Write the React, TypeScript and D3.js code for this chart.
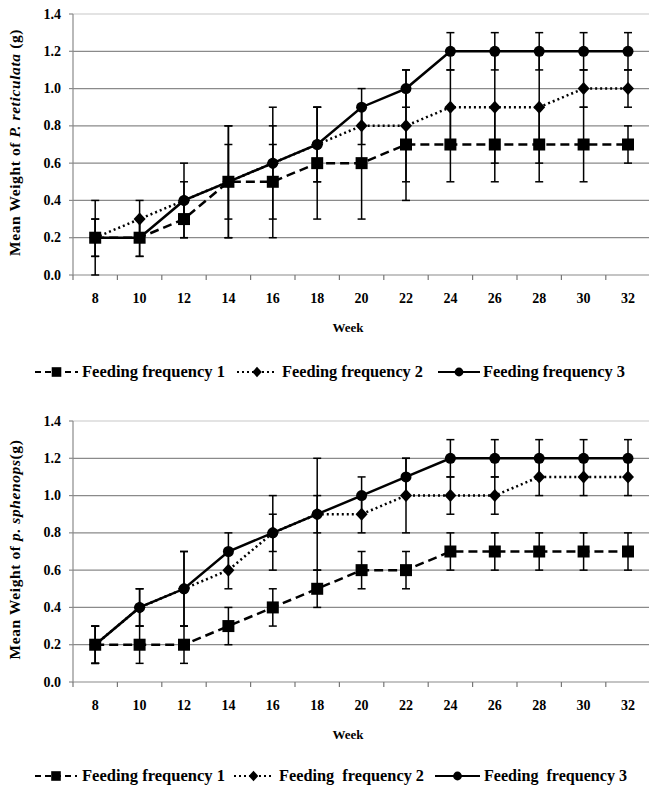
import React from "react";
import * as d3 from "d3";

const weeks = [8, 10, 12, 14, 16, 18, 20, 22, 24, 26, 28, 30, 32];
const yTicks = [0, 0.2, 0.4, 0.6, 0.8, 1.0, 1.2, 1.4];
const seriesNames = ["Feeding frequency 1", "Feeding frequency 2", "Feeding frequency 3"];
const seriesNamesBottom = ["Feeding frequency 1", "Feeding  frequency 2", "Feeding  frequency 3"];

// Top chart: P. reticulata
const retFF1 = [0.2, 0.2, 0.3, 0.5, 0.5, 0.6, 0.6, 0.7, 0.7, 0.7, 0.7, 0.7, 0.7];
const retFF2 = [0.2, 0.3, 0.4, 0.5, 0.6, 0.7, 0.8, 0.8, 0.9, 0.9, 0.9, 1.0, 1.0];
const retFF3 = [0.2, 0.2, 0.4, 0.5, 0.6, 0.7, 0.9, 1.0, 1.2, 1.2, 1.2, 1.2, 1.2];
const retErr1 = [0.2, 0.1, 0.1, 0.3, 0.3, 0.3, 0.3, 0.3, 0.2, 0.2, 0.2, 0.2, 0.1];
const retErr2 = [0.1, 0.1, 0.1, 0.2, 0.1, 0.2, 0.1, 0.3, 0.2, 0.3, 0.3, 0.1, 0.1];
const retErr3 = [0.1, 0.1, 0.2, 0.3, 0.3, 0.2, 0.1, 0.1, 0.1, 0.1, 0.1, 0.1, 0.1];

// Bottom chart: P. sphenops
const sphFF1 = [0.2, 0.2, 0.2, 0.3, 0.4, 0.5, 0.6, 0.6, 0.7, 0.7, 0.7, 0.7, 0.7];
const sphFF2 = [0.2, 0.4, 0.5, 0.6, 0.8, 0.9, 0.9, 1.0, 1.0, 1.0, 1.1, 1.1, 1.1];
const sphFF3 = [0.2, 0.4, 0.5, 0.7, 0.8, 0.9, 1.0, 1.1, 1.2, 1.2, 1.2, 1.2, 1.2];
const sphErr1 = [0.1, 0.1, 0.1, 0.1, 0.1, 0.1, 0.1, 0.1, 0.1, 0.1, 0.1, 0.1, 0.1];
const sphErr2 = [0.1, 0.1, 0.2, 0.1, 0.1, 0.1, 0.1, 0.2, 0.1, 0.1, 0.1, 0.1, 0.1];
const sphErr3 = [0.1, 0.1, 0.2, 0.1, 0.2, 0.3, 0.1, 0.1, 0.1, 0.1, 0.1, 0.1, 0.1];

const FONT = "Liberation Serif";
const dashes = ["9,5", "2,3", null];
const legendDashes = ["6,4", "2,3", null];

function Marker({ kind, x, y, s = 1 }: { kind: number; x: number; y: number; s?: number }) {
  if (kind === 0) return <rect x={x - 6 * s} y={y - 6 * s} width={12 * s} height={12 * s} fill="#000" />;
  if (kind === 1)
    return (
      <path
        d={`M${x},${y - 6.5 * s}L${x + 6 * s},${y}L${x},${y + 6.5 * s}L${x - 6 * s},${y}Z`}
        fill="#000"
      />
    );
  return <circle cx={x} cy={y} r={5.5 * s} fill="#000" />;
}

function T(props: any) {
  const { style, ...rest } = props;
  return <text {...rest} style={{ fontFamily: FONT, fontWeight: "bold", ...(style || {}) }} />;
}

function Chart({
  top,
  series,
  errs,
  species,
  suffix,
  names,
  legendItems,
  legendOffset,
}: {
  top: number;
  series: number[][];
  errs: number[][];
  species: string;
  suffix: string;
  names: string[];
  legendItems: { x0: number; x1: number; tx: number; w: number }[];
  legendOffset: number;
}) {
  const left = 73;
  const plotTop = top;
  const plotBottom = top + 261;
  const x = d3.scaleBand<number>().domain(weeks).range([left, left + 13 * 44.4]).padding(0);
  const y = d3.scaleLinear().domain([0, 1.4]).range([plotBottom, plotTop]);
  const cx = (w: number) => (x(w) as number) + x.bandwidth() / 2;
  const line = d3
    .line<number>()
    .x((_, i) => cx(weeks[i]))
    .y((v) => y(v));
  const boundaries = d3.range(14).map((i) => left + i * x.bandwidth());
  const legendY = plotBottom + legendOffset;
  return (
    <g>
      {yTicks.map((t) => (
        <g key={t}>
          <line
            x1={left}
            x2={649}
            y1={y(t)}
            y2={y(t)}
            stroke={t === 1.4 ? "#c8c8c8" : "#8a8a8a"}
            strokeWidth={1.2}
          />
          <line x1={left - 4} x2={left} y1={y(t)} y2={y(t)} stroke="#8a8a8a" strokeWidth={1.2} />
          <T x={61} y={y(t) + 4.5} textAnchor="end" fontSize={14}>
            {t.toFixed(1)}
          </T>
        </g>
      ))}
      <line x1={left} x2={left} y1={plotTop} y2={plotBottom} stroke="#8a8a8a" strokeWidth={1.2} />
      {boundaries.map((b, i) => (
        <line key={i} x1={b} x2={b} y1={plotBottom} y2={plotBottom + 5} stroke="#777" strokeWidth={1.2} />
      ))}
      {weeks.map((w) => (
        <T key={w} x={cx(w)} y={plotBottom + 28} textAnchor="middle" fontSize={14}>
          {w}
        </T>
      ))}
      <T x={348} y={plotBottom + 57} textAnchor="middle" fontSize={13}>
        Week
      </T>
      <T
        transform={`translate(20,${(plotTop + plotBottom) / 2 - 2}) rotate(-90)`}
        textAnchor="middle"
        fontSize={15.5}
        style={{ letterSpacing: "0.6px" }}
      >
        Mean Weight of <tspan style={{ fontStyle: "italic" }}>{species}</tspan>
        {suffix}
      </T>
      {series.map((s, si) =>
        s.map((v, i) => {
          const e = errs[si][i];
          const px = cx(weeks[i]);
          return (
            <g key={`${si}-${i}`} stroke="#000" strokeWidth={1.5}>
              <line x1={px} x2={px} y1={y(v + e)} y2={y(v - e)} />
              <line x1={px - 4} x2={px + 4} y1={y(v + e)} y2={y(v + e)} />
              <line x1={px - 4} x2={px + 4} y1={y(v - e)} y2={y(v - e)} />
            </g>
          );
        })
      )}
      {series.map((s, si) => (
        <path
          key={si}
          d={line(s) || ""}
          fill="none"
          stroke="#000"
          strokeWidth={2.5}
          strokeDasharray={dashes[si] || undefined}
        />
      ))}
      {series.map((s, si) =>
        s.map((v, i) => <Marker key={`${si}-${i}`} kind={si} x={cx(weeks[i])} y={y(v)} />)
      )}
      {legendItems.map((it, si) => (
        <g key={si}>
          <line
            x1={it.x0}
            x2={it.x1}
            y1={legendY - 5}
            y2={legendY - 5}
            stroke="#000"
            strokeWidth={2.2}
            strokeDasharray={legendDashes[si] || undefined}
          />
          <Marker kind={si} x={(it.x0 + it.x1) / 2} y={legendY - 5} s={0.8} />
          <T
            x={it.tx}
            y={legendY}
            fontSize={16.5}
            textLength={it.w}
            lengthAdjust="spacingAndGlyphs"
            style={{ fontWeight: "bold", whiteSpace: "pre" }}
          >
            {names[si]}
          </T>
        </g>
      ))}
    </g>
  );
}

const legendTop = [
  { x0: 35, x1: 78, tx: 82, w: 143 },
  { x0: 237, x1: 277, tx: 282, w: 141 },
  { x0: 438, x1: 480, tx: 483, w: 142 },
];
const legendBottom = [
  { x0: 35, x1: 77, tx: 82, w: 143 },
  { x0: 234, x1: 273, tx: 279, w: 145 },
  { x0: 435, x1: 480, tx: 484, w: 143 },
];

export default function App() {
  return (
    <div style={{ position: "absolute", left: 0, top: 0 }}>
      <svg width={649} height={786} style={{ display: "block", background: "#fff" }}>
        <Chart
          top={14}
          series={[retFF1, retFF2, retFF3]}
          errs={[retErr1, retErr2, retErr3]}
          species="P. reticulata"
          suffix=" (g)"
          names={seriesNames}
          legendItems={legendTop}
          legendOffset={102}
        />
        <Chart
          top={421}
          series={[sphFF1, sphFF2, sphFF3]}
          errs={[sphErr1, sphErr2, sphErr3]}
          species="p. sphenops"
          suffix="(g)"
          names={seriesNamesBottom}
          legendItems={legendBottom}
          legendOffset={99}
        />
      </svg>
    </div>
  );
}
